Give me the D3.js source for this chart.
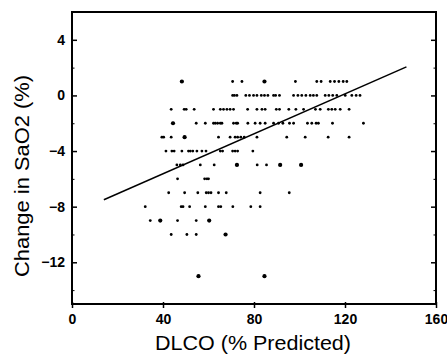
<!DOCTYPE html>
<html>
<head>
<meta charset="utf-8">
<script src="https://cdn.jsdelivr.net/npm/d3@7"></script>
<style>
  body { margin: 0; background: #fff; }
  svg { display: block; }
  .tick text { font-family: 'Liberation Sans', Arial, sans-serif; font-weight: bold; font-size: 14px; fill: #000; }
</style>
</head>
<body>
<div id="chart"></div>
<script>
// SaO2 change per integer level, with DLCO (% predicted) values
const rowLevels = [1, 0, -1, -2, -3, -4, -5, -6, -7, -8, -9, -10, -13];
const rowDLCO = [
  [48.3, 70.6, 74.7, 84.6, 98.2, 107.6, 109.5, 113.5, 115.4, 117.3, 119.2, 120.8],
  [70.6, 71.4, 72.5, 76.4, 78.0, 79.8, 81.3, 83.2, 84.6, 86.1, 88.6, 89.5, 91.2, 97.4, 99.3, 101.0,
   102.8, 104.7, 106.1, 107.6, 111.3, 112.9, 114.6, 116.4, 120.1, 123.0, 124.9, 126.6],
  [43.6, 49.3, 50.2, 53.7, 62.2, 65.2, 66.6, 68.1, 69.5, 71.0, 77.2, 81.3, 83.5, 84.9, 89.8, 91.2,
   95.3, 98.4, 101.8, 107.0, 109.1, 112.7, 114.2, 115.7, 117.9, 121.8],
  [44.4, 54.6, 58.6, 62.2, 63.0, 64.0, 65.2, 65.9, 71.0, 72.2, 72.8, 77.3, 80.5, 82.7, 84.9, 88.6,
   90.8, 92.7, 95.6, 97.4, 103.5, 105.4, 107.3, 108.3, 114.5, 128.1],
  [39.5, 40.3, 43.6, 49.5, 64.4, 69.5, 71.7, 72.8, 74.2, 75.7, 81.3, 94.4, 102.5, 112.6, 121.8],
  [41.3, 43.9, 44.9, 48.3, 51.2, 52.0, 53.1, 54.9, 57.1, 58.9, 65.2, 66.2, 70.6, 71.7, 72.8, 79.5],
  [46.1, 47.6, 48.8, 56.4, 62.5, 72.5, 81.4, 85.5, 91.5, 100.7],
  [46.4, 58.3, 59.3, 60.0],
  [42.5, 49.5, 55.3, 59.0, 60.0, 61.1, 64.4, 67.8, 82.7, 95.5],
  [32.2, 48.0, 48.8, 51.7, 58.6, 64.4, 65.4, 70.7, 78.6, 82.7],
  [34.4, 38.8, 46.4, 54.6, 60.3],
  [43.6, 50.5, 54.6, 67.5],
  [55.6, 84.6]
];
// points that look like stacked (heavier) dots: [dlco, change]
const heavyDots = [[48.3, 1], [84.6, 1], [44.4, -2], [49.5, -3], [72.5, -5], [91.5, -5], [100.7, -5],
  [38.8, -9], [60.3, -9], [67.5, -10], [55.6, -13], [84.6, -13]];
// fitted regression line end points
const fitLine = [[14, -7.5], [147, 2.05]];
const xTicks = [0, 40, 80, 120, 160];
const yTicks = [4, 0, -4, -8, -12];
const yMinorTicks = [6, 2, -2, -6, -10, -14];

const W = 447, H = 364;
const M = {top: 12, right: 11, bottom: 60, left: 72};
const iw = W - M.left - M.right, ih = H - M.top - M.bottom;

const points = [];
rowLevels.forEach(function (lvl, i) {
  rowDLCO[i].forEach(function (v) { points.push({x: v, y: lvl}); });
});

const svg = d3.select('#chart').append('svg').attr('width', W).attr('height', H);
const g = svg.append('g').attr('transform', 'translate(' + M.left + ',' + M.top + ')');

const x = d3.scaleLinear().domain([0, 160]).range([0, iw]);
const y = d3.scaleLinear().domain([-15, 6]).range([ih, 0]);

// frame
g.append('rect').attr('width', iw).attr('height', ih)
  .attr('fill', 'none').attr('stroke', '#000').attr('stroke-width', 2);

// x axis
const xAxis = g.append('g').attr('transform', 'translate(0,' + ih + ')')
  .call(d3.axisBottom(x).tickValues(xTicks).tickSize(4).tickPadding(6));
xAxis.select('.domain').remove();
xAxis.selectAll('.tick line').attr('stroke-width', 1.5).attr('y1', -2);

// left axis, ticks inward
const yAxis = g.append('g')
  .call(d3.axisLeft(y).tickValues(yTicks).tickSize(-5).tickPadding(7));
yAxis.select('.domain').remove();
yAxis.selectAll('.tick line').attr('stroke-width', 1.5);
g.append('g').call(d3.axisLeft(y).tickValues(yMinorTicks).tickSize(-2.5).tickFormat(''))
  .call(function (s) { s.select('.domain').remove(); });

// right axis, ticks inward
const rAxis = g.append('g').attr('transform', 'translate(' + iw + ',0)')
  .call(d3.axisRight(y).tickValues(yTicks).tickSize(-5).tickFormat(''));
rAxis.select('.domain').remove();
rAxis.selectAll('.tick line').attr('stroke-width', 1.5);
g.append('g').attr('transform', 'translate(' + iw + ',0)')
  .call(d3.axisRight(y).tickValues(yMinorTicks).tickSize(-2.5).tickFormat(''))
  .call(function (s) { s.select('.domain').remove(); });

// points
g.selectAll('.pt').data(points).enter().append('circle')
  .attr('class', 'pt')
  .attr('cx', function (d) { return x(d.x); })
  .attr('cy', function (d) { return y(d.y); })
  .attr('r', 1.4)
  .attr('fill', '#000');

g.selectAll('.heavy').data(heavyDots).enter().append('circle')
  .attr('class', 'heavy')
  .attr('cx', function (d) { return x(d[0]); })
  .attr('cy', function (d) { return y(d[1]); })
  .attr('r', 2.1)
  .attr('fill', '#000');

// regression line
g.append('line')
  .attr('x1', x(fitLine[0][0])).attr('y1', y(fitLine[0][1]))
  .attr('x2', x(fitLine[1][0])).attr('y2', y(fitLine[1][1]))
  .attr('stroke', '#000').attr('stroke-width', 1.5);

// axis titles
svg.append('text')
  .attr('x', 253).attr('y', 350)
  .attr('text-anchor', 'middle')
  .attr('textLength', 196).attr('lengthAdjust', 'spacingAndGlyphs')
  .style('font-family', "'Liberation Sans', Arial, sans-serif")
  .style('font-size', '20px')
  .text('DLCO (% Predicted)');

svg.append('text')
  .attr('transform', 'translate(29,176) rotate(-90)')
  .attr('text-anchor', 'middle')
  .attr('textLength', 202).attr('lengthAdjust', 'spacingAndGlyphs')
  .style('font-family', "'Liberation Sans', Arial, sans-serif")
  .style('font-size', '20px')
  .text('Change in SaO2 (%)');
</script>
</body>
</html>
